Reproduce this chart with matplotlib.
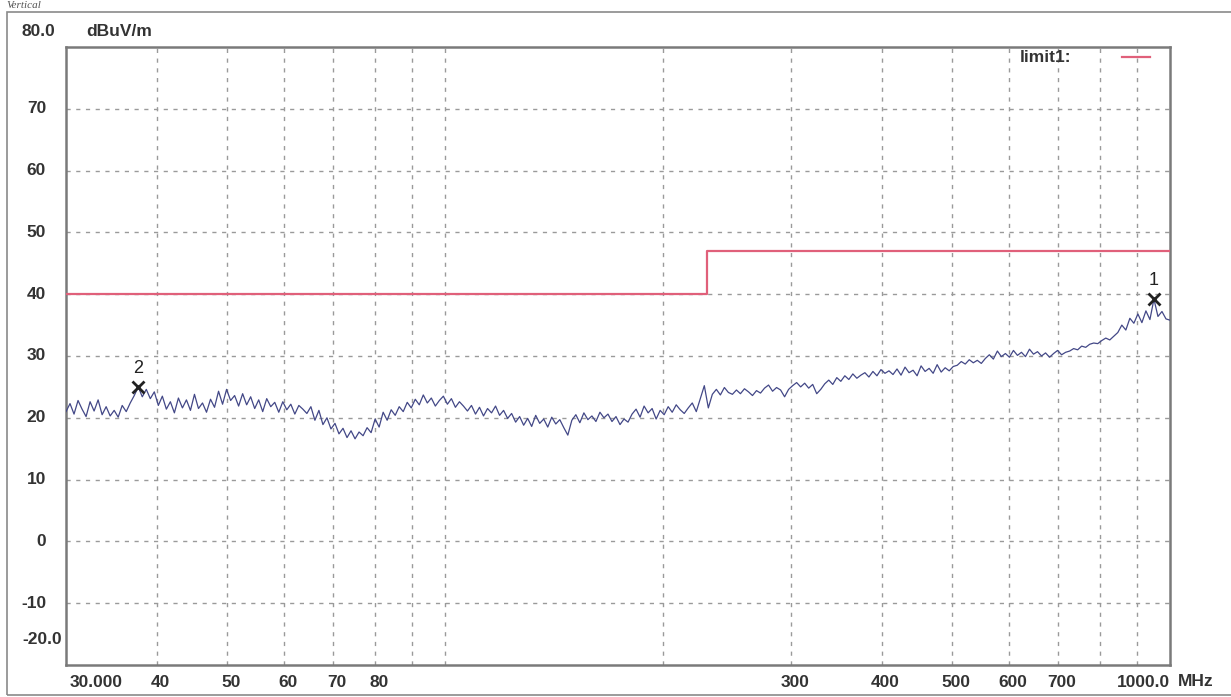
import matplotlib
matplotlib.use("Agg")
import matplotlib.pyplot as plt
import matplotlib.transforms as mtransforms
from matplotlib.patches import Rectangle
import numpy as np

plt.rcParams["font.family"] = ["Liberation Sans", "DejaVu Sans"]

# measured trace, dBuV/m, sweep points evenly spaced on the log axis 30..1000 MHz
level = [
    21.0, 22.3, 20.6, 22.8, 21.4, 20.2, 22.6, 21.1, 22.9, 20.5, 21.8, 20.3, 21.2, 20.1, 22.0, 21.0, 22.4, 23.6,
    25.0, 23.4, 24.6, 23.1, 24.2,
    22.0, 23.5, 21.4, 22.6, 20.8, 23.2, 21.6, 22.9, 21.2, 23.8, 21.5, 22.4, 20.9, 23.0, 21.7,
    24.3, 22.2, 24.6, 22.8, 23.6, 21.9, 23.9,
    22.1, 23.4, 21.5, 22.9, 21.0, 23.1, 21.8, 22.5, 20.9, 22.6, 21.3, 22.2, 20.6, 22.0, 21.4, 20.7,
    21.8, 19.6, 21.2, 18.9, 20.0, 18.2, 19.1,
    17.4, 18.3, 16.8, 17.9, 16.6, 17.7, 17.1, 18.4,
    17.6, 19.8, 18.5, 20.9, 19.6, 21.3, 20.4, 21.8,
    21.0, 22.5, 21.6, 23.0, 22.1, 23.7, 22.4, 23.2, 21.9, 22.8, 23.5, 22.2, 23.1, 21.7, 22.6, 21.9,
    21.1, 22.0, 20.6, 21.7, 20.3, 21.5, 20.8, 21.9, 20.4, 21.2, 19.9, 20.7,
    19.3, 20.2, 18.8, 19.9, 18.6, 20.4, 19.1, 19.8, 18.5, 20.1, 19.0, 19.7, 18.4, 17.2,
    19.6, 20.5, 19.2, 20.8, 19.7, 20.3, 19.4, 20.9, 20.0, 20.6,
    19.4, 20.2, 18.9, 19.8, 19.3,
    20.6, 21.4, 20.1, 21.9, 20.8, 21.5, 19.8, 21.2, 20.5, 21.8, 20.9, 22.1, 21.3, 20.7, 21.6,
    22.4, 21.0, 23.1, 25.2, 21.6, 23.8,
    24.6, 23.7, 24.9, 24.1, 23.8, 24.5, 23.9, 24.7, 24.2, 23.6, 24.4, 24.0, 24.8, 25.3, 24.3, 24.9, 24.5,
    23.4, 24.6, 25.2, 25.7, 25.0, 25.6, 24.8, 25.4, 23.9,
    24.6, 25.5, 26.1, 25.4, 26.5, 25.9, 26.8, 26.2, 27.1, 26.4, 26.9, 27.3, 26.6, 27.5, 26.8, 27.8, 27.2, 27.6,
    27.0, 27.9, 26.9, 28.2, 27.3, 27.7, 26.8, 28.4, 27.5, 28.0, 27.2, 28.6, 27.4, 28.1, 27.6, 28.3,
    28.5, 29.1, 28.7, 29.4, 28.9, 29.3, 28.8, 29.6,
    30.2, 29.5, 30.8, 29.9,
    30.4, 29.8, 30.9, 30.1, 30.6, 29.9, 31.1, 30.3, 30.7, 30.0, 30.5, 29.8, 30.4, 30.9, 30.2, 30.6,
    30.8, 31.2, 31.0, 31.6, 31.4, 31.9, 32.1, 32.0, 32.5, 32.9, 32.6, 33.2,
    33.8, 35.0, 34.2, 36.1, 35.3, 36.8,
    35.4, 37.3, 35.9, 39.2, 36.4, 37.2, 36.0, 35.8,
]
freq = np.geomspace(30, 1000, len(level))

limit_freq = [30, 230, 230, 1000]
limit_level = [40, 40, 47, 47]

marker_freq = [949, 37.7]
marker_level = [39.2, 25.0]
marker_name = ["1", "2"]

xticks = [40, 50, 60, 70, 80, 300, 400, 500, 600, 700]
xgrid = [40, 50, 60, 70, 80, 90, 100, 200, 300, 400, 500, 600, 700, 800, 900]
yticks = [70, 60, 50, 40, 30, 20, 10, 0, -10]

W, H = 1231, 697
fig = plt.figure(figsize=(W / 100, H / 100), dpi=100)
ax = fig.add_axes([66 / W, 1 - 665 / H, (1170 - 66) / W, (665 - 47) / H])

ax.set_xscale("log")
ax.set_xlim(30, 1000)
ax.set_ylim(-20, 80)

for f in xgrid:
    ax.axvline(f, color="#9a9a9a", lw=1, ls=(0, (3, 4)), zorder=1)
for v in yticks:
    ax.axhline(v, color="#9a9a9a", lw=1, ls=(0, (3, 4)), zorder=1)

ax.plot(limit_freq, limit_level, color="#e0607a", lw=1.6, zorder=3)
ax.plot(freq, level, color="#434887", lw=0.9, zorder=4)

ax.plot(marker_freq, marker_level, "x", color="#222222", ms=9, mew=2, zorder=5)
for f, v, n in zip(marker_freq, marker_level, marker_name):
    ax.annotate(n, (f, v), xytext=(0, 7), textcoords="offset points",
                ha="center", va="bottom", fontsize=13, color="#222222")

ax.set_xticks([])
ax.set_yticks([])
ax.xaxis.set_minor_locator(matplotlib.ticker.NullLocator())
for s in ax.spines.values():
    s.set_color("#7a7a7a")
    s.set_linewidth(1.8)

lab = dict(fontsize=12.5, fontweight="bold", color="#333333")
shift = mtransforms.ScaledTranslation(4 / 100, 0, fig.dpi_scale_trans)
for f in xticks:
    ax.text(f, -0.028, str(f), transform=ax.get_xaxis_transform() + shift,
            ha="center", va="center", **lab)
ax.text(30, -0.028, "30.000", transform=ax.get_xaxis_transform() + shift,
        ha="left", va="center", **lab)
ax.text(1000, -0.028, "1000.0", transform=ax.get_xaxis_transform(),
        ha="right", va="center", **lab)
fig.text(1178 / W, 1 - 682 / H, "MHz", ha="left", va="center", **lab)

ytrans = mtransforms.blended_transform_factory(fig.transFigure, ax.transData)
for v in yticks:
    ax.text(46 / W, v, str(v), transform=ytrans, ha="right", va="center", **lab)
fig.text(22 / W, 1 - 32 / H, "80.0", ha="left", va="center", **lab)
fig.text(22 / W, 1 - 640 / H, "-20.0", ha="left", va="center", **lab)
fig.text(86 / W, 1 - 32 / H, "dBuV/m", ha="left", va="center", **lab)

# legend
fig.text(1020 / W, 1 - 57 / H, "limit1:", ha="left", va="center", **lab)
fig.lines.append(plt.Line2D([1122 / W, 1150 / W], [1 - 57 / H, 1 - 57 / H],
                            transform=fig.transFigure, color="#e0607a", lw=1.6))

# outer frame and caption
fig.patches.append(Rectangle((7 / W, 1 - 695 / H), 1.1, (695 - 12) / H, transform=fig.transFigure,
                             fill=False, ec="#8a8a8a", lw=1.2))
fig.text(6 / W, 1 - 1 / H, "Vertical", ha="left", va="top", fontsize=8,
         style="italic", family="Liberation Serif", color="#555555")

fig.savefig("out.png", dpi=100)
